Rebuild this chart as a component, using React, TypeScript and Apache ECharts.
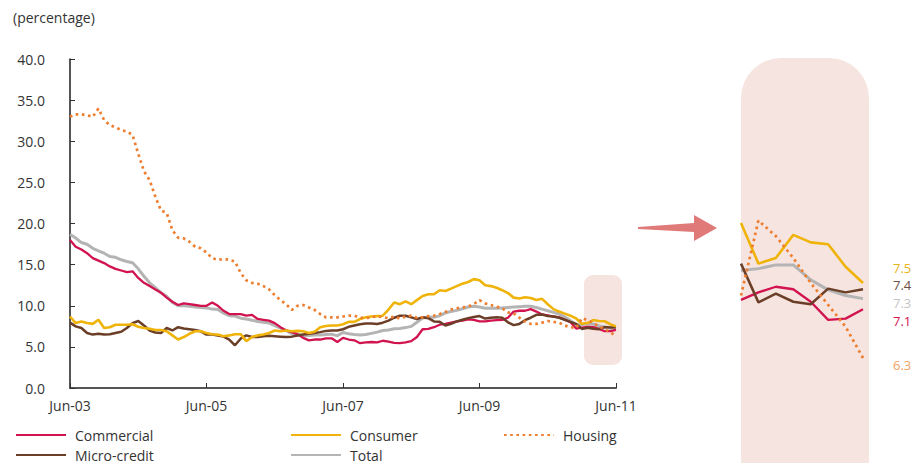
import React, { useEffect, useRef } from "react";
import * as echarts from "echarts";

const MONTHS = ["Jan", "Feb", "Mar", "Apr", "May", "Jun", "Jul", "Aug", "Sep", "Oct", "Nov", "Dec"];
const START_MONTH = 5; // June
const START_YEAR = 3; // 2003
const N_POINTS = 97;
const ZOOM_FROM = 89;

const categories: string[] = Array.from({ length: N_POINTS }, (_, i) => {
  const m = START_MONTH + i;
  const yy = START_YEAR + Math.floor(m / 12);
  return `${MONTHS[m % 12]}-${String(yy).padStart(2, "0")}`;
});

const yTicks = { min: 0, max: 40, interval: 5 };

const commercial = [
  18.0, 17.2, 16.85, 16.4, 15.8, 15.5, 15.2, 14.8, 14.5, 14.3,
  14.1, 14.2, 13.4, 12.8, 12.4, 12.0, 11.6, 11.0, 10.5, 10.1,
  10.3, 10.2, 10.1, 10.0, 10.0, 10.4, 10.0, 9.4, 9.0, 9.0,
  9.0, 8.8, 8.9, 8.4, 8.3, 8.2, 7.9, 7.4, 7.0, 6.8,
  6.55, 6.1, 5.8, 5.9, 5.9, 6.05, 6.05, 5.6, 6.1, 5.9,
  5.8, 5.45, 5.55, 5.6, 5.55, 5.75, 5.65, 5.5, 5.45, 5.55,
  5.7, 6.2, 7.15, 7.2, 7.4, 7.7, 7.8, 7.95, 8.1, 8.2,
  8.35, 8.3, 8.1, 8.1, 8.2, 8.25, 8.3, 8.55, 9.3, 9.4,
  9.4, 9.6, 9.3, 8.95, 8.85, 8.7, 8.6, 8.3, 8.0,
  7.23, 7.35, 7.44, 7.4, 7.2, 6.91, 6.93, 7.08,
];

const consumer = [
  8.7, 7.9, 8.1, 7.9, 7.8, 8.3, 7.3, 7.4, 7.7, 7.7,
  7.7, 7.75, 7.45, 7.3, 7.2, 7.05, 7.05, 6.9, 6.4, 5.9,
  6.2, 6.6, 6.9, 6.9, 6.7, 6.55, 6.5, 6.3, 6.4, 6.55,
  6.55, 5.7, 6.2, 6.4, 6.5, 6.7, 7.0, 6.9, 7.0, 6.9,
  6.95, 6.9, 6.7, 6.85, 7.4, 7.55, 7.6, 7.6, 7.75, 8.05,
  8.05, 8.4, 8.6, 8.7, 8.75, 8.8, 9.55, 10.4, 10.2, 10.55,
  10.2, 10.7, 11.2, 11.4, 11.4, 11.9, 11.8, 12.1, 12.4, 12.7,
  12.9, 13.25, 13.1, 12.5, 12.4, 12.2, 11.9, 11.55, 11.0, 10.9,
  11.05, 10.95, 10.7, 10.85, 10.2, 9.6, 9.3, 9.05, 8.8,
  8.46, 7.81, 7.9, 8.27, 8.15, 8.12, 7.76, 7.5,
];

const housing = [
  33.0, 33.3, 33.3, 33.2, 33.0, 34.0, 32.6, 32.0, 31.7, 31.4,
  31.2, 30.8, 28.5, 26.4, 25.3, 23.3, 21.6, 21.3, 19.2, 18.3,
  18.2, 17.8, 17.2, 17.0, 16.5, 15.8, 15.6, 15.7, 15.6, 15.4,
  14.0, 13.1, 12.8, 12.7, 12.4, 12.0, 11.3, 10.7, 10.2, 9.5,
  10.0, 10.1, 9.8, 9.5, 9.0, 8.6, 8.6, 8.6, 8.7, 8.8,
  8.8, 8.55, 8.5, 8.6, 8.75, 8.6, 8.5, 8.7, 8.45, 8.7,
  8.8, 8.55, 8.6, 8.75, 8.8, 9.0, 9.25, 9.55, 9.7, 9.8,
  9.9, 10.2, 10.7, 10.3, 10.1, 9.9, 9.7, 9.2, 9.1, 8.55,
  8.1, 7.8, 7.8, 7.95, 8.15, 8.05, 7.95, 7.6, 7.4,
  7.3, 8.5, 8.25, 7.9, 7.5, 7.15, 6.8, 6.3,
];

const microCredit = [
  7.95, 7.5, 7.3, 6.7, 6.5, 6.6, 6.5, 6.55, 6.7, 6.85,
  7.3, 7.9, 8.15, 7.6, 7.0, 6.75, 6.7, 7.3, 7.0, 7.4,
  7.25, 7.15, 7.05, 6.9, 6.5, 6.5, 6.4, 6.25, 5.9, 5.2,
  6.0, 6.4, 6.2, 6.2, 6.3, 6.35, 6.3, 6.25, 6.2, 6.25,
  6.4, 6.5, 6.6, 6.7, 6.8, 6.95, 7.0, 7.0, 7.15, 7.45,
  7.6, 7.75, 7.85, 7.85, 7.8, 7.95, 8.2, 8.55, 8.8, 8.8,
  8.6, 8.4, 8.6, 8.5, 8.1, 8.05, 7.6, 7.8, 8.1, 8.3,
  8.5, 8.65, 8.75, 8.45, 8.55, 8.6, 8.55, 8.0, 7.65, 7.8,
  8.25, 8.55, 8.9, 8.95, 8.75, 8.7, 8.55, 8.3, 8.05,
  7.81, 7.19, 7.33, 7.2, 7.16, 7.41, 7.35, 7.4,
];

const total = [
  18.7, 18.25, 17.7, 17.5, 17.0, 16.7, 16.4, 16.0, 15.9, 15.6,
  15.4, 15.25, 14.5, 13.6, 12.8, 12.2, 11.6, 11.15, 10.4, 10.0,
  10.0, 9.95, 9.85, 9.8, 9.75, 9.6, 9.55, 9.1, 8.8, 8.75,
  8.5, 8.4, 8.25, 8.1, 8.0, 7.9, 7.6, 7.3, 7.0, 6.6,
  6.55, 6.35, 6.4, 6.45, 6.45, 6.5, 6.55, 6.35, 6.75, 6.6,
  6.5, 6.45, 6.5, 6.65, 6.8, 7.0, 7.05, 7.2, 7.25, 7.35,
  7.5, 8.0, 8.5, 8.65, 8.6, 8.8, 9.15, 9.3, 9.45, 9.65,
  9.85, 9.95, 9.85, 9.7, 9.7, 9.7, 9.75, 9.8, 9.85, 9.9,
  9.95, 9.95, 9.8, 9.6, 9.4, 9.2, 9.0, 8.65, 8.2,
  7.7, 7.73, 7.79, 7.79, 7.55, 7.39, 7.3, 7.25,
];

const FONT = "Open Sans";

type SeriesDef = {
  name: string;
  data: number[];
  color: string;
  labelColor: string;
  width: number;
  dotted?: boolean;
  labelDy: number;
};

const seriesDefs: SeriesDef[] = [
  { name: "Total", data: total, color: "#b4b4b4", labelColor: "#c4c4c4", width: 3, labelDy: 4 },
  { name: "Commercial", data: commercial, color: "#d1134f", labelColor: "#d1134f", width: 2.3, labelDy: 12 },
  { name: "Micro-credit", data: microCredit, color: "#6b3f27", labelColor: "#6b4d3e", width: 2.5, labelDy: -4 },
  { name: "Consumer", data: consumer, color: "#efb30a", labelColor: "#e9b31a", width: 2.6, labelDy: -15 },
  { name: "Housing", data: housing, color: "#ee7d2e", labelColor: "#f0a264", width: 2.7, dotted: true, labelDy: 7 },
];

const legendPos: { name: string; left: number; top: number }[] = [
  { name: "Commercial", left: 15, top: 428 },
  { name: "Consumer", left: 290, top: 428 },
  { name: "Housing", left: 503, top: 428 },
  { name: "Micro-credit", left: 15, top: 448 },
  { name: "Total", left: 290, top: 448 },
];

export default function App() {
  const ref = useRef<HTMLDivElement>(null);

  useEffect(() => {
    if (!ref.current) return;
    const chart = echarts.init(ref.current, undefined, { renderer: "svg" });

    const lineStyleFor = (d: SeriesDef) => ({
      color: d.color,
      width: d.width,
      type: d.dotted ? ([2.6, 3.6] as any) : "solid",
      cap: "butt",
    });

    const mainSeries = seriesDefs.map((d) => ({
      name: d.name,
      type: "line",
      xAxisIndex: 0,
      yAxisIndex: 0,
      data: d.data,
      symbol: "none",
      showSymbol: false,
      color: d.color,
      lineStyle: lineStyleFor(d),
      z: 3,
    }));

    const zoomSeries = seriesDefs.map((d) => ({
      name: d.name,
      type: "line",
      xAxisIndex: 1,
      yAxisIndex: 1,
      data: d.data.slice(ZOOM_FROM),
      symbol: "none",
      showSymbol: false,
      color: d.color,
      lineStyle: lineStyleFor(d),
      z: 3,
      endLabel: {
        show: true,
        formatter: (p: any) => Number(p.value).toFixed(1),
        color: d.labelColor,
        fontSize: 13,
        lineHeight: 13,
        fontFamily: FONT,
        distance: 5,
        offset: [25, d.labelDy],
      },
    }));

    chart.setOption({
      animation: false,
      textStyle: { fontFamily: FONT },
      title: {
        text: "(percentage)",
        left: 13,
        top: 10,
        padding: 0,
        textStyle: { fontSize: 14, fontWeight: "normal", color: "#333", fontFamily: FONT },
      },
      legend: legendPos.map((l) => ({
        data: [l.name],
        left: l.left,
        top: l.top,
        padding: 0,
        itemWidth: 50,
        itemHeight: 14,
        itemGap: 0,
        selectedMode: false,
        itemStyle: { opacity: 0, borderWidth: 0 },
        textStyle: { fontSize: 14, lineHeight: 14, color: "#333", fontFamily: FONT, padding: [0, 0, 0, 4] },
      })),
      grid: [
        { left: 70, top: 59.3, width: 546, height: 328.7 },
        { left: 741, top: 126.75, width: 122, height: 312.5 },
      ],
      xAxis: [
        {
          type: "category",
          gridIndex: 0,
          data: categories,
          boundaryGap: false,
          axisLine: { show: true, lineStyle: { color: "#555", width: 2 } },
          axisTick: { show: true, inside: true, length: 5, interval: 23, lineStyle: { color: "#333", width: 1 } },
          axisLabel: { interval: 23, margin: 10, fontSize: 14, color: "#333", fontFamily: FONT },
          splitLine: { show: false },
        },
        {
          type: "category",
          gridIndex: 1,
          data: categories.slice(ZOOM_FROM),
          boundaryGap: false,
          show: false,
        },
      ],
      yAxis: [
        {
          type: "value",
          gridIndex: 0,
          min: yTicks.min,
          max: yTicks.max,
          interval: yTicks.interval,
          axisLine: { show: true, lineStyle: { color: "#555", width: 2 } },
          axisTick: { show: true, inside: true, length: 5, lineStyle: { color: "#333", width: 1 } },
          axisLabel: {
            formatter: (v: number) => v.toFixed(1),
            margin: 25,
            fontSize: 14,
            color: "#333",
            fontFamily: FONT,
          },
          splitLine: { show: false },
        },
        { type: "value", gridIndex: 1, min: 5, max: 10, show: false, splitLine: { show: false } },
      ],
      graphic: [
        {
          type: "rect",
          shape: { x: 584, y: 275, width: 38, height: 90, r: 9 },
          style: { fill: "#f6e4e0" },
        },
        {
          type: "rect",
          shape: { x: 741, y: 58, width: 128, height: 440, r: 40 },
          style: { fill: "#f6e4e0" },
        },
        {
          type: "polygon",
          shape: {
            points: [
              [638, 227],
              [694, 223],
              [694, 215],
              [717, 228],
              [694, 241],
              [694, 232],
              [638, 229],
            ],
          },
          style: { fill: "#e07a78" },
        },
      ],
      series: [...mainSeries, ...zoomSeries],
    });

    return () => chart.dispose();
  }, []);

  return (
    <div
      ref={ref}
      style={{ position: "fixed", left: 0, top: 0, width: 918, height: 463, background: "#fff" }}
    />
  );
}
